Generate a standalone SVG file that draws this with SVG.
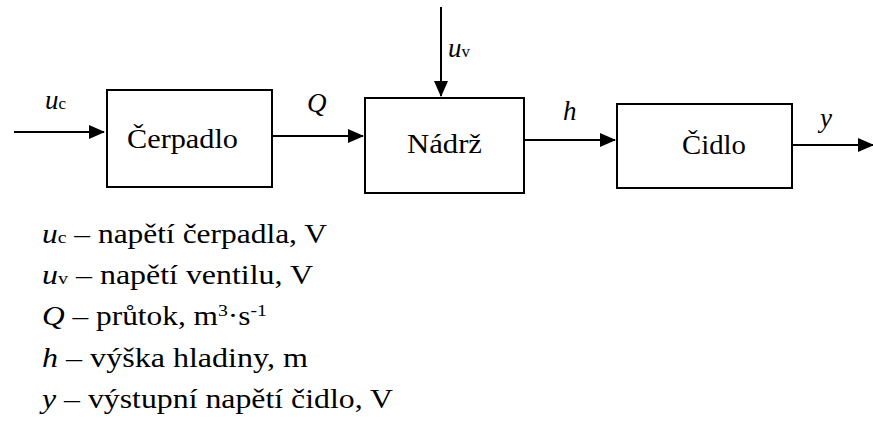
<svg xmlns="http://www.w3.org/2000/svg" width="873" height="421" viewBox="0 0 873 421">
<style>
.box{fill:#fff;stroke:#000;stroke-width:2}
.ln{stroke:#000;stroke-width:2;fill:none}
</style>
<defs>
<marker id="ah" markerWidth="16" markerHeight="14" refX="15" refY="7" orient="auto" markerUnits="userSpaceOnUse">
<path d="M0,0 L16,7 L0,14 Z" fill="#000"/>
</marker>
</defs>
<g font-family="Liberation Serif" font-size="27" fill="#000">
<g id="connectors">
<line class="ln" x1="14" y1="132" x2="104" y2="132" marker-end="url(#ah)"/>
<line class="ln" x1="273" y1="136" x2="363" y2="136" marker-end="url(#ah)"/>
<line class="ln" x1="441" y1="7" x2="441" y2="96" marker-end="url(#ah)"/>
<line class="ln" x1="525" y1="140" x2="615" y2="140" marker-end="url(#ah)"/>
<line class="ln" x1="793" y1="145" x2="873" y2="145" marker-end="url(#ah)"/>
<g font-style="italic">
<text x="45" y="109">u<tspan font-size="17" font-style="normal">c</tspan></text>
<text x="307" y="112">Q</text>
<text x="448" y="57">u<tspan font-size="17" font-style="normal">v</tspan></text>
<text x="563" y="120">h</text>
<text x="820" y="127">y</text>
</g>
</g>
<g id="cerpadlo">
<rect class="box" x="107" y="90" width="165" height="97"/>
<text x="127" y="148" textLength="111" lengthAdjust="spacingAndGlyphs">Čerpadlo</text>
</g>
<g id="nadrz">
<rect class="box" x="365" y="98" width="159" height="95"/>
<text x="407" y="153" textLength="75" lengthAdjust="spacingAndGlyphs">Nádrž</text>
</g>
<g id="cidlo">
<rect class="box" x="617" y="104" width="175" height="84"/>
<text x="682" y="154" textLength="64" lengthAdjust="spacingAndGlyphs">Čidlo</text>
</g>
<g id="legend">
<text x="42" y="243" textLength="285" lengthAdjust="spacingAndGlyphs"><tspan font-style="italic">u</tspan><tspan font-size="17">c</tspan> – napětí čerpadla, V</text>
<text x="42" y="284" textLength="271" lengthAdjust="spacingAndGlyphs"><tspan font-style="italic">u</tspan><tspan font-size="17">v</tspan> – napětí ventilu, V</text>
<text x="42" y="325" textLength="225" lengthAdjust="spacingAndGlyphs"><tspan font-style="italic">Q</tspan> – průtok, m<tspan font-size="17" dy="-9">3</tspan><tspan dy="9">·s</tspan><tspan font-size="17" dy="-9">-1</tspan></text>
<text x="42" y="367" textLength="266" lengthAdjust="spacingAndGlyphs"><tspan font-style="italic">h</tspan> – výška hladiny, m</text>
<text x="42" y="408" textLength="351" lengthAdjust="spacingAndGlyphs"><tspan font-style="italic">y</tspan> – výstupní napětí čidlo, V</text>
</g>
</g>
</svg>
